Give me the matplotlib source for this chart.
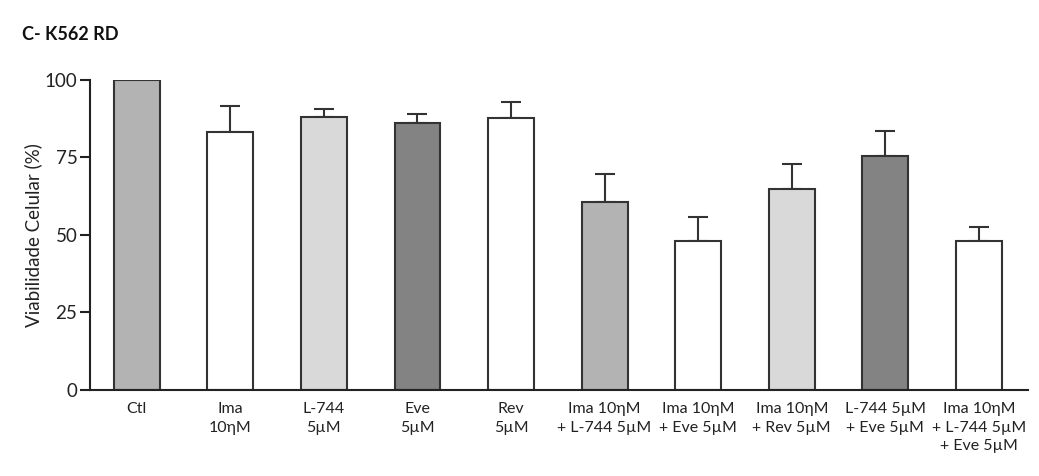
import matplotlib.pyplot as plt
import numpy as np

plt.rcParams['font.family'] = ['Lato', 'DejaVu Sans']

labels = ['Ctl', 'Ima\n10ηM', 'L-744\n5µM', 'Eve\n5µM', 'Rev\n5µM',
          'Ima 10ηM\n+ L-744 5µM', 'Ima 10ηM\n+ Eve 5µM', 'Ima 10ηM\n+ Rev 5µM',
          'L-744 5µM\n+ Eve 5µM', 'Ima 10ηM\n+ L-744 5µM\n+ Eve 5µM']
means = [100, 83.2, 88.2, 86.0, 87.6, 60.6, 48.1, 64.7, 75.6, 48.0]
errs = [0, 8.5, 2.4, 3.0, 5.4, 9.0, 7.8, 8.3, 7.9, 4.6]
colors = ['#b3b3b3', 'white', '#d9d9d9', '#828382', 'white',
          '#b3b3b3', 'white', '#d9d9d9', '#828382', 'white']

fig = plt.figure(figsize=(10.39, 4.76), dpi=100)
ax = fig.add_axes([0.0866, 0.1807, 0.9024, 0.6513])

x = np.arange(len(means))
ax.bar(x, means, width=0.49, color=colors, edgecolor='#333333', linewidth=1.5, zorder=2)
# no error bar on the control
has_err = [i for i in range(len(errs)) if errs[i] > 0]
eb = ax.errorbar(x[has_err], np.array(means)[has_err],
                 yerr=[np.zeros(len(has_err)), np.array(errs)[has_err]], fmt='none',
                 ecolor='#333333', elinewidth=1.5, capsize=7, capthick=1.5, zorder=1)
for art in eb.lines[1] + eb.lines[2]:
    art.set_clip_on(False)

ax.set_xlim(-0.5, 9.52)
ax.set_ylim(0, 100)
ax.set_yticks([0, 25, 50, 75, 100])
ax.set_xticks(x)
ax.set_xticklabels(labels, fontsize=11.5, linespacing=1.4, color='#222222')
ax.tick_params(axis='x', length=0, pad=9)
ax.tick_params(axis='y', length=7, width=1.5, labelsize=13.5, colors='#222222', pad=2)
ax.spines['top'].set_visible(False)
ax.spines['right'].set_visible(False)
for s in ['left', 'bottom']:
    ax.spines[s].set_linewidth(1.5)
    ax.spines[s].set_color('#222222')
ax.set_ylabel('Viabilidade Celular (%)', fontsize=13.5, color='#222222', labelpad=2)

fig.text(0.021, 0.916, 'C- K562 RD', fontsize=13, fontweight='bold', color='#111111',
         va='baseline')

fig.savefig('out.png', dpi=100)
